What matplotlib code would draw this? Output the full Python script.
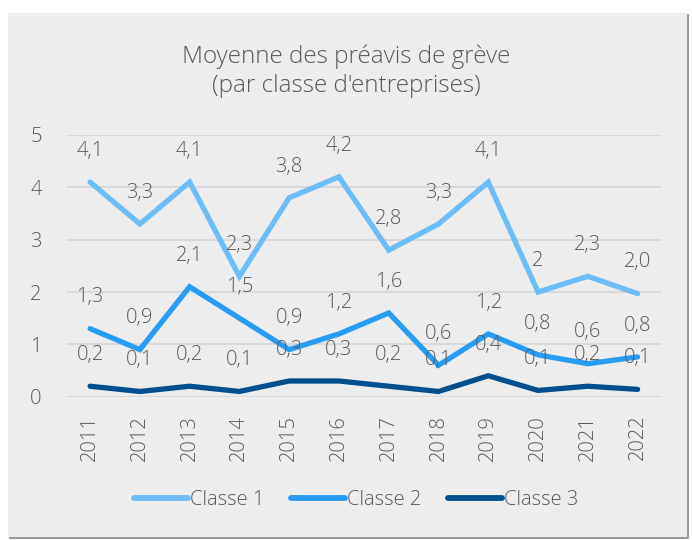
import matplotlib
matplotlib.use("Agg")
import matplotlib.pyplot as plt
from matplotlib.patches import Rectangle

years = ["2011", "2012", "2013", "2014", "2015", "2016", "2017", "2018", "2019", "2020", "2021", "2022"]
classe1 = [4.1, 3.3, 4.1, 2.3, 3.8, 4.2, 2.8, 3.3, 4.1, 2.0, 2.3, 1.97]
classe2 = [1.3, 0.9, 2.1, 1.5, 0.9, 1.2, 1.6, 0.6, 1.2, 0.8, 0.63, 0.76]
classe3 = [0.2, 0.1, 0.2, 0.1, 0.3, 0.3, 0.2, 0.1, 0.4, 0.12, 0.2, 0.14]
labels1 = ["4,1", "3,3", "4,1", "2,3", "3,8", "4,2", "2,8", "3,3", "4,1", "2", "2,3", "2,0"]
labels2 = ["1,3", "0,9", "2,1", "1,5", "0,9", "1,2", "1,6", "0,6", "1,2", "0,8", "0,6", "0,8"]
labels3 = ["0,2", "0,1", "0,2", "0,1", "0,3", "0,3", "0,2", "0,1", "0,4", "0,1", "0,2", "0,1"]
series_names = ["Classe 1", "Classe 2", "Classe 3"]
colors = ["#6CBDFA", "#279CF5", "#00508F"]
title = "Moyenne des préavis de grève\n(par classe d'entreprises)"

FONT = ["Open Sans", "DejaVu Sans"]
TXT = "#595959"
FS = 14.5
plt.rcParams["font.family"] = FONT

W, H = 692, 540
fig = plt.figure(figsize=(W / 100, H / 100), dpi=100)
fig.patch.set_facecolor("white")
# shadow + chart area background
fig.add_artist(Rectangle((9 / W, 1 - 539 / H), 680 / W, 525 / H, transform=fig.transFigure,
                         facecolor="#9a9a9a", edgecolor="none", zorder=0))
fig.add_artist(Rectangle((8 / W, 1 - 537 / H), 679 / W, 524 / H, transform=fig.transFigure,
                         facecolor="#EDEDED", edgecolor="none", zorder=0))

left, right, top, bottom = 66.7, 661, 135, 396.7
ax = fig.add_axes([left / W, 1 - bottom / H, (right - left) / W, (bottom - top) / H])
ax.set_facecolor("none")
x = list(range(len(years)))
ax.set_xlim(-0.47, len(years) - 1 + 0.47)
ax.set_ylim(0, 5)
ax.set_yticks([0, 1, 2, 3, 4, 5])
ax.yaxis.grid(True, color="#D9D9D9", linewidth=1.5)
ax.set_axisbelow(True)
for s in ax.spines.values():
    s.set_visible(False)
ax.tick_params(length=0, colors=TXT, labelsize=FS)
ax.tick_params(axis="y", pad=18)
ax.tick_params(axis="x", pad=13)
ax.set_xticks(x)
ax.set_xticklabels(years, rotation=90, va="top", ha="center")
for t in ax.get_xticklabels() + ax.get_yticklabels():
    t.set_color(TXT)
    t.set_fontweight("light")

for vals, labs, col, name in zip([classe1, classe2, classe3], [labels1, labels2, labels3],
                                 colors, series_names):
    ax.plot(x, vals, color=col, linewidth=3.8, label=name, solid_capstyle="round",
            solid_joinstyle="miter", clip_on=False)
    for xi, v, lab in zip(x, vals, labs):
        ax.annotate(lab, (xi, v), xytext=(0, 22.5), textcoords="offset points",
                    ha="center", va="center", fontsize=FS, color=TXT, fontweight="light",
                    annotation_clip=False)

fig.text(346 / W, 1 - 71 / H, title, ha="center", va="center", fontsize=17.5, color=TXT,
         fontweight="light", linespacing=1.3)

leg = fig.legend(loc="center", bbox_to_anchor=(356 / W, 1 - 500 / H), ncol=3, frameon=False,
                 handlelength=2.7, handletextpad=0.1, columnspacing=1.3, fontsize=FS)
for t in leg.get_texts():
    t.set_color(TXT)
    t.set_fontweight("light")
for h in leg.legend_handles:
    h.set_linewidth(4.2)

fig.savefig("out.png", dpi=100, facecolor="white")
